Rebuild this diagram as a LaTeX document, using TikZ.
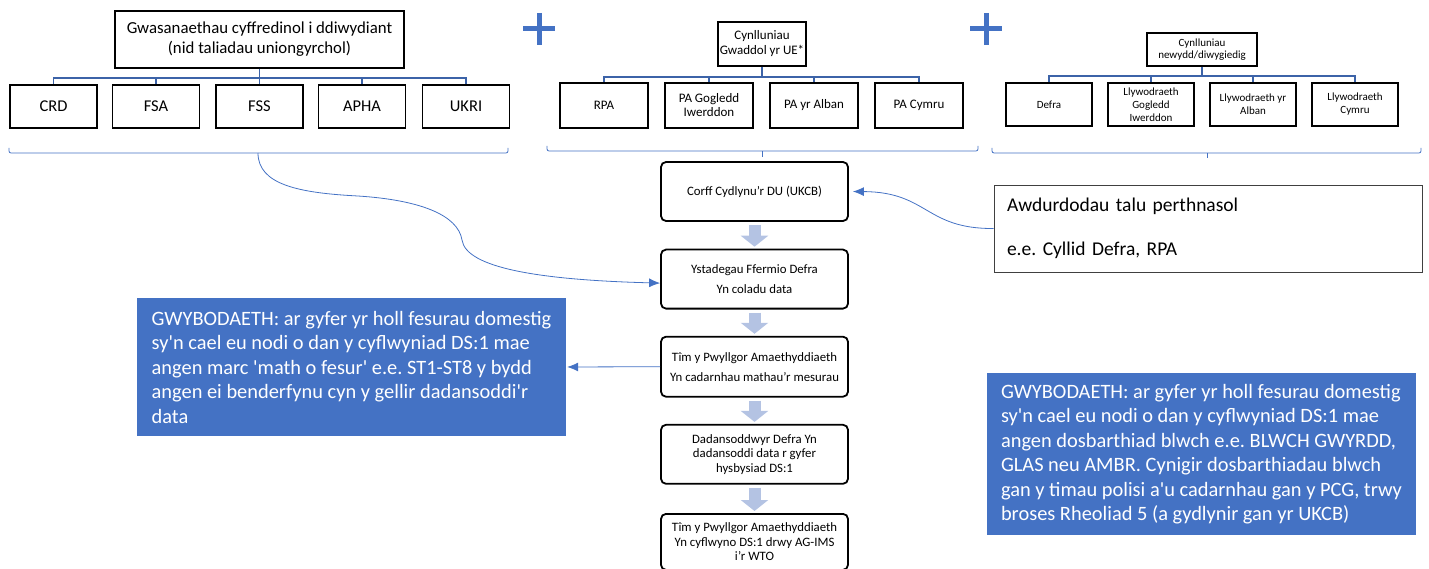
\documentclass[tikz,border=0pt]{standalone}
\usepackage{fontspec}
\setmainfont{Carlito}[Ligatures=TeXOff]
\usetikzlibrary{arrows.meta}
\frenchspacing
\definecolor{infoblue}{HTML}{4472C4}
\definecolor{treeblue}{HTML}{3C63A8}
\definecolor{flowblue}{HTML}{B4C3E3}
\tikzstyle{head} = [rectangle, draw=black, line width=1.8pt, inner sep=0pt, align=center]
\tikzstyle{unit} = [rectangle, draw=black, line width=1.8pt, inner sep=0pt, align=center]
\tikzstyle{stage} = [rectangle, rounded corners=5pt, draw=black, line width=1.8pt, minimum width=187pt, inner sep=0pt, align=center, font=\fontsize{12.8}{14.5}\selectfont]
\tikzstyle{info} = [rectangle, fill=infoblue, text=white, minimum width=429pt, inner sep=0pt, align=left, font=\fontsize{20.4}{24.5}\selectfont]
\tikzstyle{note} = [rectangle, draw=darkgray, line width=0.9pt, minimum height=87pt, inner xsep=13pt, text width=402pt, align=left, font=\fontsize{19.5}{24}\selectfont]
\tikzstyle{tree} = [draw=treeblue, line width=1.4pt]
\tikzstyle{brace} = [draw=infoblue, line width=0.8pt, rounded corners=2pt]
\tikzstyle{arrow} = [draw=infoblue, line width=0.8pt, -{Latex[length=11pt,width=9pt]}]
\tikzstyle{block} = [draw=flowblue, line width=12pt, -{Triangle[length=11pt,width=27pt]}, shorten <=3pt, shorten >=2pt]
\tikzstyle{plus} = [draw=infoblue, line width=5pt]
\begin{document}
\begin{tikzpicture}[x=1pt, y=-1pt, node distance=87.6pt]
\useasboundingbox (0,0) rectangle (1429,569);
% left group
\node (hdL) [head, minimum width=289pt, minimum height=57pt, font=\fontsize{16.8}{20}\selectfont] at (259.5,39.5) {Gwasanaethau cyffredinol i ddiwydiant\\(nid taliadau uniongyrchol)};
\node (crd) [unit, minimum width=87pt, minimum height=43pt, font=\fontsize{16.5}{19}\selectfont] at (53.5,106.5) {CRD};
\node (fsa) [unit, minimum width=87pt, minimum height=43pt, font=\fontsize{16.5}{19}\selectfont] at (156,106.5) {FSA};
\node (fss) [unit, minimum width=87pt, minimum height=43pt, font=\fontsize{16.5}{19}\selectfont] at (259.5,106.5) {FSS};
\node (apha) [unit, minimum width=87pt, minimum height=43pt, font=\fontsize{16.5}{19}\selectfont] at (362,106.5) {APHA};
\node (ukri) [unit, minimum width=87pt, minimum height=43pt, font=\fontsize{16.5}{19}\selectfont] at (466,106.5) {UKRI};
\draw [tree] (hdL.south) -- ++(0,9) -| (crd.north);
\draw [tree] (hdL.south) -- ++(0,9) -| (fsa.north);
\draw [tree] (hdL.south) -- (fss.north);
\draw [tree] (hdL.south) -- ++(0,9) -| (apha.north);
\draw [tree] (hdL.south) -- ++(0,9) -| (ukri.north);
\draw [brace] (9,148) -- (9,153) -- (508,153) -- (508,148);
\coordinate (lbr) at (258,153);
% middle group
\node (hdM) [head, minimum width=88pt, minimum height=44pt, font=\fontsize{13}{15}\selectfont] at (762,44) {Cynlluniau\\Gwaddol yr UE*};
\node (rpa) [unit, minimum width=88pt, minimum height=45pt, font=\fontsize{13}{14}\selectfont] at (604,105.5) {RPA};
\node (pagi) [unit, minimum width=88pt, minimum height=45pt, font=\fontsize{13}{14}\selectfont] at (709,105.5) {PA Gogledd\\Iwerddon};
\node (paya) [unit, minimum width=88pt, minimum height=45pt, font=\fontsize{13}{14}\selectfont] at (814,105.5) {PA yr Alban};
\node (pac) [unit, minimum width=88pt, minimum height=45pt, font=\fontsize{13}{14}\selectfont] at (919,105.5) {PA Cymru};
\draw [tree] (hdM.south) -- ++(0,10) -| (rpa.north);
\draw [tree] (hdM.south) -- ++(0,10) -| (pagi.north);
\draw [tree] (hdM.south) -- ++(0,10) -| (paya.north);
\draw [tree] (hdM.south) -- ++(0,10) -| (pac.north);
\draw [brace] (547,146) -- (547,151) -- (978,151) -- (978,146);
\draw [brace] (762,151) -- (762,157);
% right group
\node (hdR) [head, minimum width=110pt, minimum height=33pt, font=\fontsize{11}{12.5}\selectfont] at (1202,49.5) {Cynlluniau\\newydd/diwygiedig};
\node (defra) [unit, minimum width=86pt, minimum height=43pt, font=\fontsize{11}{13}\selectfont] at (1049,104.5) {Defra};
\node (llgi) [unit, minimum width=86pt, minimum height=43pt, font=\fontsize{11}{13}\selectfont] at (1151,104.5) {Llywodraeth\\Gogledd\\Iwerddon};
\node (llya) [unit, minimum width=86pt, minimum height=43pt, font=\fontsize{11}{13}\selectfont] at (1253,104.5) {Llywodraeth yr\\Alban};
\node (llc) [unit, minimum width=86pt, minimum height=43pt, font=\fontsize{11}{13}\selectfont] at (1355,104.5) {Llywodraeth\\Cymru};
\draw [tree] (hdR.south) -- ++(0,9) -| (defra.north);
\draw [tree] (hdR.south) -- ++(0,9) -| (llgi.north);
\draw [tree] (hdR.south) -- ++(0,9) -| (llya.north);
\draw [tree] (hdR.south) -- ++(0,9) -| (llc.north);
\draw [brace] (992,148) -- (992,153) -- (1421,153) -- (1421,148);
\draw [brace] (1207,153) -- (1207,158);
% plus signs
\draw [plus] (539,13) -- (539,45) (523,29) -- (555,29);
\draw [plus] (986,13) -- (986,45) (970,29) -- (1002,29);
% flow
\node (ukcb) [stage, minimum height=59pt] at (754.5,191.5) {Corff Cydlynu’r DU (UKCB)};
\node (ystad) [stage, minimum height=59pt, below of=ukcb] {Ystadegau Ffermio Defra\\[5.5pt]Yn coladu data};
\node (timpc) [stage, minimum height=60pt, below of=ystad] {Tîm y Pwyllgor Amaethyddiaeth\\[5.5pt]Yn cadarnhau mathau’r mesurau};
\node (dadan) [stage, minimum height=59pt, below of=timpc] {Dadansoddwyr Defra Yn\\dadansoddi data r gyfer\\hysbysiad DS:1};
\node (wto) [stage, minimum height=56pt, below of=dadan] {Tîm y Pwyllgor Amaethyddiaeth\\Yn cyflwyno DS:1 drwy AG-IMS\\i’r WTO};
\draw [block] (ukcb) -- (ystad);
\draw [block] (ystad) -- (timpc);
\draw [block] (timpc) -- (dadan);
\draw [block] (dadan) -- (wto);
% side boxes
\node (auth) [note] at (1208,228.5) {Awdurdodau talu perthnasol\\[20pt]e.e. Cyllid Defra, RPA};
\node (infoL) [info, minimum height=138pt] at (351.5,367) {GWYBODAETH: ar gyfer yr holl fesurau domestig\\sy'n cael eu nodi o dan y cyflwyniad DS:1 mae\\angen marc 'math o fesur' e.e. ST1-ST8 y bydd\\angen ei benderfynu cyn y gellir dadansoddi'r\\data};
\node (infoR) [info, minimum height=162pt] at (1201.5,454) {GWYBODAETH: ar gyfer yr holl fesurau domestig\\sy'n cael eu nodi o dan y cyflwyniad DS:1 mae\\angen dosbarthiad blwch e.e. BLWCH GWYRDD,\\GLAS neu AMBR. Cynigir dosbarthiadau blwch\\gan y timau polisi a'u cadarnhau gan y PCG, trwy\\broses Rheoliad 5 (a gydlynir gan yr UKCB)};
% connectors
\draw [arrow] (lbr) .. controls (258,185) and (300,193) .. (358,196) .. controls (420,200) and (458,215) .. (462,240) .. controls (466,268) and (540,280) .. ([yshift=-4pt]ystad.west);
\draw [arrow, shorten >=4pt] (auth.west) .. controls (925,229) and (928,192) .. (ukcb.east);
\draw [arrow, shorten >=1pt] (timpc.west) -- (infoL.east);
\end{tikzpicture}
\end{document}
